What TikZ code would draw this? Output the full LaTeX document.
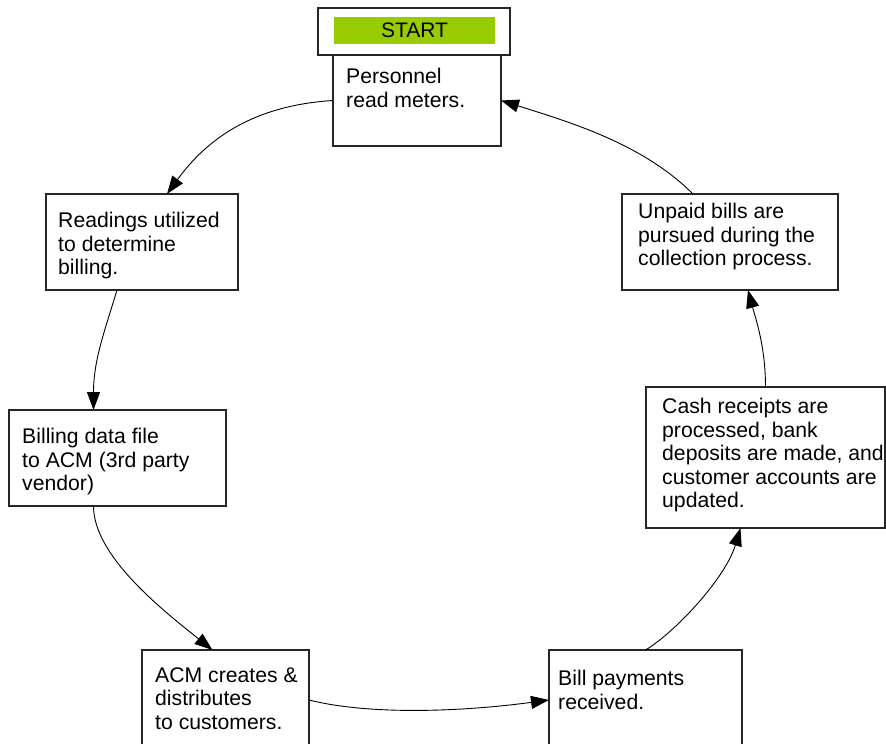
\documentclass[tikz,border=0pt]{standalone}
\usepackage{fontspec}
\setmainfont{Liberation Sans}
\usetikzlibrary{arrows.meta}
\definecolor{startgreen}{HTML}{99CC00}
\tikzset{stage/.style={
    draw=black!85, line width=1.2pt, rectangle,
    inner sep=0pt, outer sep=0pt
  },
  stage text/.style={
    anchor=north west, align=left, inner sep=0pt,
    font=\fontsize{21.2}{23.5}\selectfont
  },
  flow/.style={
    draw, line width=0.9pt,
    -{Triangle[length=18pt,width=13pt]}
  }
}

\begin{document}
\begin{tikzpicture}[x=1pt,y=-1pt]
    \useasboundingbox (0,0) rectangle (886,744);
    % start banner
    \node[stage, minimum width=192, minimum height=47] (start) at (414,31.5) {};
    \node[fill=startgreen, minimum width=161, minimum height=27, inner sep=0pt,
      font=\fontsize{21}{23.5}\selectfont] (go) at (414.5,30.5) {START};
    % the boxes of the cycle
    \node[stage, minimum width=168, minimum height=91] (read) at (417,100.5) {};
    \node[stage, minimum width=192, minimum height=96] (util) at (142,242) {};
    \node[stage, minimum width=217, minimum height=96] (file) at (117.5,458) {};
    \node[stage, minimum width=167, minimum height=100] (mail) at (225.5,700) {};
    \node[stage, minimum width=193, minimum height=100] (paid) at (645.5,700) {};
    \node[stage, minimum width=239, minimum height=141] (cash) at (765.5,457.5) {};
    \node[stage, minimum width=216, minimum height=96] (dun) at (730,242) {};
    % their texts
    \node[stage text] (read-txt) at (346,68) {Personnel\\read meters.};
    \node[stage text] (util-txt) at (58,212) {Readings utilized\\to determine\\billing.};
    \node[stage text] (file-txt) at (22,428) {Billing data file\\to ACM (3rd party\\vendor)};
    \node[stage text] (mail-txt) at (155,667) {ACM creates \&\\distributes\\to customers.};
    \node[stage text] (paid-txt) at (558,670) {Bill payments\\received.};
    \node[stage text] (cash-txt) at (662,398) {Cash receipts are\\processed, bank\\deposits are made, and\\customer accounts are\\updated.};
    \node[stage text] (dun-txt) at (638,203) {Unpaid bills are\\pursued during the\\collection process.};
    % connectors
    \draw[flow] (read.west) .. controls +(-80,5) and +(40,-55) .. ([xshift=25]util.north);
    \draw[flow] ([xshift=-25]util.south) .. controls +(-12,40) and +(0,-50) .. ([xshift=-24]file.north);
    \draw[flow] ([xshift=-24]file.south) .. controls +(0,50) and +(-50,-40) .. ([xshift=-13]mail.north);
    \draw[flow] (mail.east) .. controls +(60,15) and +(-90,12) .. (paid.west);
    \draw[flow] (paid.north) .. controls +(30,-18) and +(-15,50) .. ([xshift=-25]cash.south);
    \draw[flow] (cash.north) .. controls +(0,-40) and +(8,30) .. ([xshift=18]dun.south);
    \draw[flow] ([xshift=-37]dun.north) .. controls +(-50,-50) and +(70,22) .. (read.east);
\end{tikzpicture}
\end{document}
